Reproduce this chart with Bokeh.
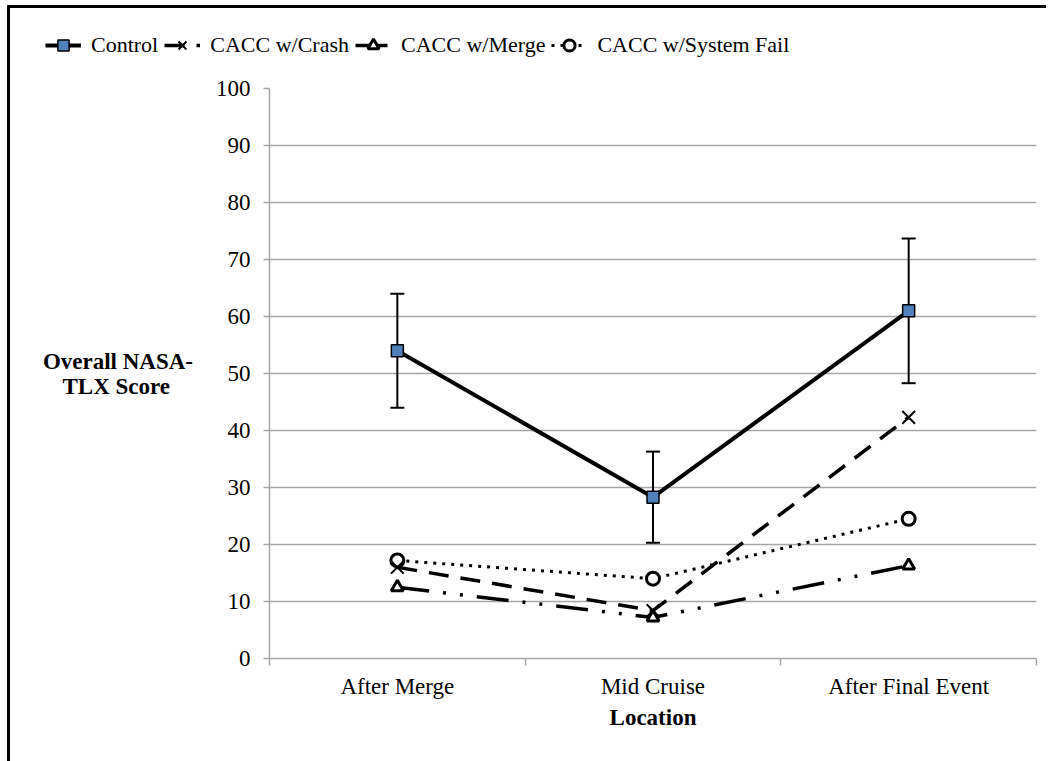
from bokeh.plotting import figure
from bokeh.models import (Range1d, FixedTicker, ColumnDataSource, Whisker, TeeHead,
                          Legend, LegendItem)
from bokeh.embed import file_html
from bokeh.resources import INLINE

# Overall NASA-TLX workload by location and condition
locations = ["After Merge", "Mid Cruise", "After Final Event"]
control = [54.0, 28.3, 61.0]
control_err = [10.0, 8.0, 12.7]
cacc_crash = [16.0, 8.4, 42.3]
cacc_merge = [12.5, 7.2, 16.3]
cacc_sysfail = [17.2, 14.0, 24.5]
y_ticks = list(range(0, 101, 10))
series_names = ["Control", "CACC w/Crash", "CACC w/Merge", "CACC w/System Fail"]

FONT = "'Liberation Serif'"
GRID = "#a6a6a6"
NBSP = "\u00a0"

# line / marker styles per series
STYLES = {
    "Control": dict(line=dict(line_width=4), marker=dict(marker="square", size=12,
                    fill_color="#4f81bd", line_color="black", line_width=1.5)),
    "CACC w/Crash": dict(line=dict(line_width=3.5, line_dash="20 12"),
                         marker=dict(marker="x", size=18, line_color="black", line_width=2)),
    "CACC w/Merge": dict(line=dict(line_width=3.5, line_dash="32 14 3 14 3 14"),
                         marker=dict(marker="triangle", size=12, fill_color="white",
                                     line_color="black", line_width=3)),
    "CACC w/System Fail": dict(line=dict(line_width=3, line_dash="3 6"),
                               marker=dict(marker="circle", size=13, fill_color="white",
                                           line_color="black", line_width=3)),
}
series_values = {
    "Control": control,
    "CACC w/Crash": cacc_crash,
    "CACC w/Merge": cacc_merge,
    "CACC w/System Fail": cacc_sysfail,
}

# category centres on a numeric axis so that ticks can sit between categories
xs = [i + 0.5 for i in range(len(locations))]
bounds = list(range(len(locations) + 1))

p = figure(width=1039, height=696,
           x_range=Range1d(0, len(locations)), y_range=Range1d(0, 100),
           output_backend="svg", toolbar_location=None,
           min_border_left=259, min_border_right=13,
           min_border_top=23, min_border_bottom=103)
p.outline_line_color = None
p.margin = (0, 0, 0, 7)
p.styles = {"border-left": "3px solid black"}

# y axis and grid
p.xgrid.visible = False
p.ygrid.ticker = FixedTicker(ticks=y_ticks)
p.ygrid.grid_line_color = GRID
p.ygrid.grid_line_width = 1.5
ya = p.yaxis[0]
ya.ticker = FixedTicker(ticks=y_ticks)
ya.axis_line_color = GRID
ya.axis_line_width = 1.5
ya.major_tick_line_color = GRID
ya.major_tick_line_width = 1.5
ya.major_tick_out = 6
ya.major_tick_in = 0
ya.minor_tick_line_color = None
ya.major_label_text_font = FONT
ya.major_label_text_font_size = "23px"
ya.major_label_text_color = "black"
ya.major_label_standoff = 13
ya.axis_label = "Overall NASA-\nTLX Score" + NBSP * 4
ya.axis_label_orientation = "horizontal"
ya.axis_label_text_font = FONT
ya.axis_label_text_font_size = "23px"
ya.axis_label_text_font_style = "bold"
ya.axis_label_text_color = "black"
ya.axis_label_text_line_height = 1.0
ya.axis_label_standoff = 20

# x axis: labels at centres, small ticks at category boundaries
xa = p.xaxis[0]
xa.ticker = FixedTicker(ticks=xs, minor_ticks=bounds)
xa.major_label_overrides = {x: name for x, name in zip(xs, locations)}
xa.axis_line_color = GRID
xa.axis_line_width = 1.5
xa.major_tick_line_color = None
xa.major_tick_out = 0
xa.major_tick_in = 0
xa.minor_tick_line_color = GRID
xa.minor_tick_line_width = 1.5
xa.minor_tick_out = 7
xa.minor_tick_in = 0
xa.major_label_text_font = FONT
xa.major_label_text_font_size = "23px"
xa.major_label_text_color = "black"
xa.major_label_standoff = 8
xa.axis_label = "Location"
xa.axis_label_text_font = FONT
xa.axis_label_text_font_size = "23px"
xa.axis_label_text_font_style = "bold"
xa.axis_label_text_color = "black"
xa.axis_label_standoff = 3

# error bars for the control condition
err_src = ColumnDataSource(dict(
    x=xs,
    upper=[v + e for v, e in zip(control, control_err)],
    lower=[v - e for v, e in zip(control, control_err)],
))
whisker = Whisker(source=err_src, base="x", upper="upper", lower="lower",
                  line_color="black", line_width=2, level="underlay",
                  upper_head=TeeHead(size=14, line_color="black", line_width=2),
                  lower_head=TeeHead(size=14, line_color="black", line_width=2))
p.add_layout(whisker)

# series, drawn back to front
for name in reversed(series_names):
    st = STYLES[name]
    p.line(xs, series_values[name], line_color="black", **st["line"])
    p.scatter(xs, series_values[name], **st["marker"])

# legend strip above the chart; its key renderers sit outside the strip's view
lg = figure(width=1039, height=60, x_axis_type=None, y_axis_type=None,
            output_backend="svg", toolbar_location=None, min_border=0,
            x_range=Range1d(10, 11), y_range=Range1d(0, 100))
lg.outline_line_color = None
lg.xgrid.visible = False
lg.ygrid.visible = False
lg.margin = (5, 0, 0, 7)
lg.styles = {"border-top": "3px solid black", "border-left": "3px solid black"}
items = []
for name in series_names:
    st = STYLES[name]
    r_line = lg.line(xs, series_values[name], line_color="black", **st["line"])
    r_mark = lg.scatter(xs, series_values[name], **st["marker"])
    items.append(LegendItem(label=name, renderers=[r_line, r_mark]))
legend = Legend(
    items=items, orientation="horizontal", location=(35, 9),
    label_text_font=FONT, label_text_font_size="22px", label_text_color="black",
    glyph_width=36, glyph_height=28, spacing=6, label_standoff=10,
    padding=0, margin=0, border_line_color=None, background_fill_alpha=0,
)
lg.add_layout(legend)

open("out.html", "w").write(file_html([lg, p], INLINE))
